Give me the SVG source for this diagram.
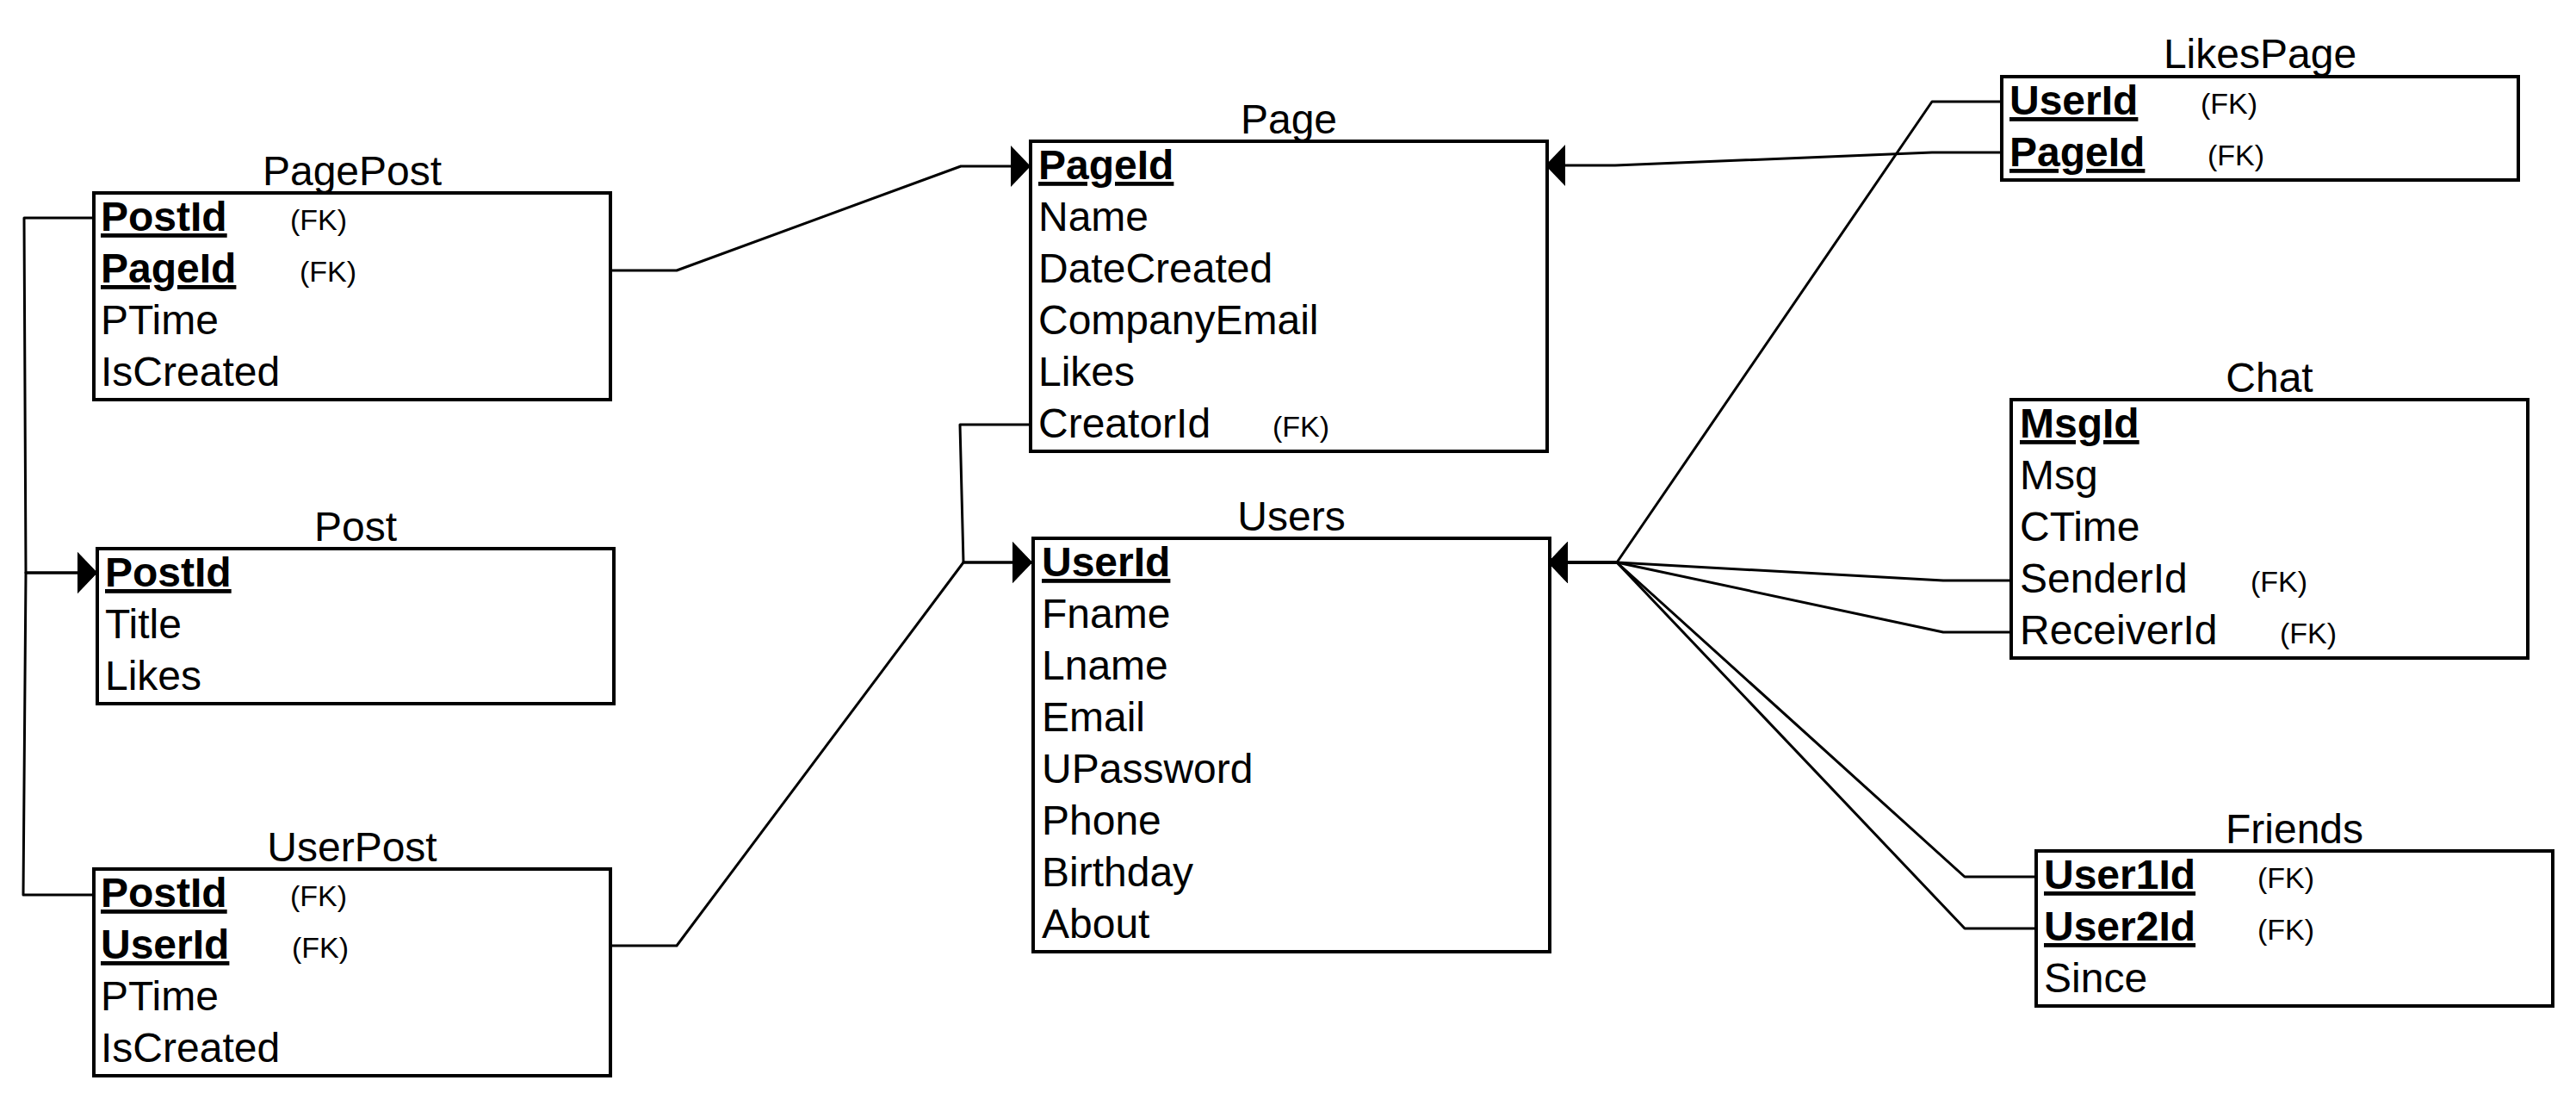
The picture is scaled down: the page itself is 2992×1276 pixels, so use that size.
<svg xmlns="http://www.w3.org/2000/svg" width="2992" height="1276" viewBox="0 0 2992 1276">
  <style>
    text { font-family: "Liberation Sans", Arial, Helvetica, sans-serif; fill: #000; }
    .box { fill: #fff; stroke: #000; stroke-width: 4; }
    .title { font-size: 48px; text-anchor: middle; }
    .f { font-size: 48px; }
    .pk { font-weight: bold; text-decoration: underline; }
    .fk { font-size: 34px; }
    .conn { fill: none; stroke: #000; stroke-width: 3; stroke-linejoin: round; }
  </style>
  <defs>
    <marker id="arrow" viewBox="0 0 23 48" refX="23" refY="24" markerWidth="23" markerHeight="48" markerUnits="userSpaceOnUse" orient="auto">
      <path d="M0,0 L23,24 L0,48 Z" fill="#000"/>
    </marker>
  </defs>

  <rect width="2992" height="1276" fill="#fff"/>

  <!-- relationships -->
  <g id="connectors">
    <path class="conn" d="M109,253 L28,253 L30,665 L113,665" marker-end="url(#arrow)"/>
    <path class="conn" d="M109,1039 L27,1039 L30,665 L113,665" marker-end="url(#arrow)"/>
    <path class="conn" d="M709,314 L786,314 L1116,193 L1197,193" marker-end="url(#arrow)"/>
    <path class="conn" d="M2325,177 L2244,177 L1876,192 L1795,192" marker-end="url(#arrow)"/>
    <path class="conn" d="M1196,493 L1115,493 L1119,653 L1199,653" marker-end="url(#arrow)"/>
    <path class="conn" d="M709,1098 L786,1098 L1119,653 L1199,653" marker-end="url(#arrow)"/>
    <path class="conn" d="M2325,118 L2244,118 L1878,653 L1798,653" marker-end="url(#arrow)"/>
    <path class="conn" d="M2336,674 L2257,674 L1878,653 L1798,653" marker-end="url(#arrow)"/>
    <path class="conn" d="M2336,734 L2257,734 L1878,653 L1798,653" marker-end="url(#arrow)"/>
    <path class="conn" d="M2365,1018 L2282,1018 L1878,653 L1798,653" marker-end="url(#arrow)"/>
    <path class="conn" d="M2365,1078 L2282,1078 L1878,653 L1798,653" marker-end="url(#arrow)"/>
  </g>

  <g id="PagePost">
    <text class="title" x="409" y="215">PagePost</text>
    <rect class="box" x="109" y="224" width="600" height="240"/>
    <text class="f pk" x="117" y="268">PostId</text>
    <text class="fk" x="337" y="267">(FK)</text>
    <text class="f pk" x="117" y="328">PageId</text>
    <text class="fk" x="348" y="327">(FK)</text>
    <text class="f" x="117" y="388">PTime</text>
    <text class="f" x="117" y="448">IsCreated</text>
  </g>

  <g id="Post">
    <text class="title" x="413" y="628">Post</text>
    <rect class="box" x="113" y="637" width="600" height="180"/>
    <text class="f pk" x="122" y="681">PostId</text>
    <text class="f" x="122" y="741">Title</text>
    <text class="f" x="122" y="801">Likes</text>
  </g>

  <g id="UserPost">
    <text class="title" x="409" y="1000">UserPost</text>
    <rect class="box" x="109" y="1009" width="600" height="240"/>
    <text class="f pk" x="117" y="1053">PostId</text>
    <text class="fk" x="337" y="1052">(FK)</text>
    <text class="f pk" x="117" y="1113">UserId</text>
    <text class="fk" x="339" y="1112">(FK)</text>
    <text class="f" x="117" y="1173">PTime</text>
    <text class="f" x="117" y="1233">IsCreated</text>
  </g>

  <g id="Page">
    <text class="title" x="1497" y="155">Page</text>
    <rect class="box" x="1197" y="164" width="600" height="360"/>
    <text class="f pk" x="1206" y="208">PageId</text>
    <text class="f" x="1206" y="268">Name</text>
    <text class="f" x="1206" y="328">DateCreated</text>
    <text class="f" x="1206" y="388">CompanyEmail</text>
    <text class="f" x="1206" y="448">Likes</text>
    <text class="f" x="1206" y="508">CreatorId</text>
    <text class="fk" x="1478" y="507">(FK)</text>
  </g>

  <g id="Users">
    <text class="title" x="1500" y="616">Users</text>
    <rect class="box" x="1200" y="625" width="600" height="480"/>
    <text class="f pk" x="1210" y="669">UserId</text>
    <text class="f" x="1210" y="729">Fname</text>
    <text class="f" x="1210" y="789">Lname</text>
    <text class="f" x="1210" y="849">Email</text>
    <text class="f" x="1210" y="909">UPassword</text>
    <text class="f" x="1210" y="969">Phone</text>
    <text class="f" x="1210" y="1029">Birthday</text>
    <text class="f" x="1210" y="1089">About</text>
  </g>

  <g id="LikesPage">
    <text class="title" x="2625" y="79">LikesPage</text>
    <rect class="box" x="2325" y="89" width="600" height="120"/>
    <text class="f pk" x="2334" y="133">UserId</text>
    <text class="fk" x="2556" y="132">(FK)</text>
    <text class="f pk" x="2334" y="193">PageId</text>
    <text class="fk" x="2564" y="192">(FK)</text>
  </g>

  <g id="Chat">
    <text class="title" x="2636" y="455">Chat</text>
    <rect class="box" x="2336" y="464" width="600" height="300"/>
    <text class="f pk" x="2346" y="508">MsgId</text>
    <text class="f" x="2346" y="568">Msg</text>
    <text class="f" x="2346" y="628">CTime</text>
    <text class="f" x="2346" y="688">SenderId</text>
    <text class="fk" x="2614" y="687">(FK)</text>
    <text class="f" x="2346" y="748">ReceiverId</text>
    <text class="fk" x="2648" y="747">(FK)</text>
  </g>

  <g id="Friends">
    <text class="title" x="2665" y="979">Friends</text>
    <rect class="box" x="2365" y="988" width="600" height="180"/>
    <text class="f pk" x="2374" y="1032">User1Id</text>
    <text class="fk" x="2622" y="1031">(FK)</text>
    <text class="f pk" x="2374" y="1092">User2Id</text>
    <text class="fk" x="2622" y="1091">(FK)</text>
    <text class="f" x="2374" y="1152">Since</text>
  </g>
</svg>
